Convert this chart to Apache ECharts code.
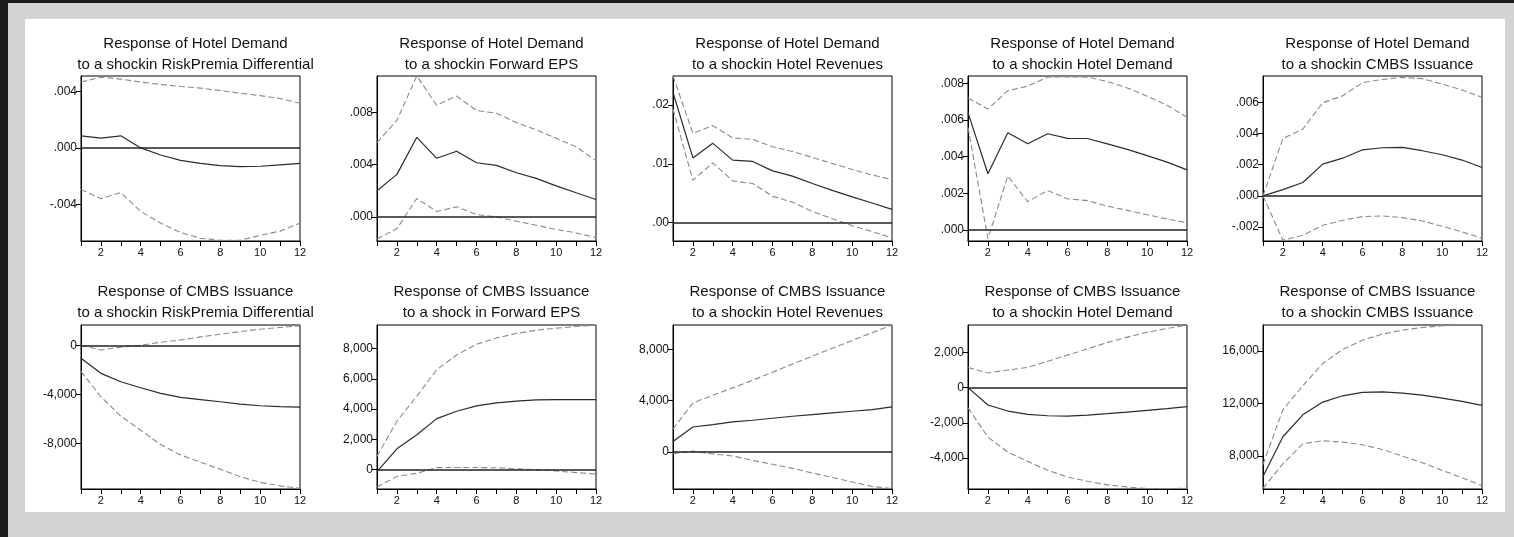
<!DOCTYPE html>
<html>
<head>
<meta charset="utf-8">
<script src="https://cdn.jsdelivr.net/npm/echarts@6/dist/echarts.min.js"></script>
<style>
html, body { margin: 0; padding: 0; background: #d4d4d4; }
#frame { position: relative; width: 1514px; height: 537px; background: #d4d4d4; overflow: hidden; }
#edgeTop { position: absolute; left: 0; top: 0; width: 1514px; height: 3px; background: #1c1c1c; }
#edgeLeft { position: absolute; left: 0; top: 0; width: 8px; height: 537px; background: #1c1c1c; }
#paper { position: absolute; left: 25px; top: 19px; width: 1480px; height: 493px; background: #fff; }
#main { position: absolute; left: 0; top: 0; width: 1514px; height: 537px; }
</style>
</head>
<body>
<div id="frame">
  <div id="edgeTop"></div>
  <div id="edgeLeft"></div>
  <div id="paper"></div>
  <div id="main"></div>
</div>
<script>
// periods after the shock
var periods = [1, 2, 3, 4, 5, 6, 7, 8, 9, 10, 11, 12];

// titles
var titleTop = 'Response of Hotel Demand';
var titleBottom = 'Response of CMBS Issuance';
var shockNames = [
    'to a shockin RiskPremia Differential',
    'to a shockin Forward EPS',
    'to a shockin Hotel Revenues',
    'to a shockin Hotel Demand',
    'to a shockin CMBS Issuance',
    'to a shockin RiskPremia Differential',
    'to a shock in Forward EPS',
    'to a shockin Hotel Revenues',
    'to a shockin Hotel Demand',
    'to a shockin CMBS Issuance'
];

// Response of Hotel Demand
var hdRisk   = [0.00086, 0.0007, 0.00086, 0.0, -0.0005, -0.00088, -0.0011, -0.00126, -0.00133, -0.0013, -0.0012, -0.0011];
var hdRiskHi = [0.00467, 0.00502, 0.00488, 0.00467, 0.0045, 0.00436, 0.00424, 0.00407, 0.00388, 0.00371, 0.0035, 0.00317];
var hdRiskLo = [-0.00295, -0.0036, -0.00317, -0.0045, -0.00533, -0.006, -0.0064, -0.00655, -0.00655, -0.0062, -0.0059, -0.00533];

var hdEps   = [0.002, 0.00326, 0.0061, 0.00449, 0.00503, 0.00415, 0.00395, 0.00338, 0.00295, 0.00238, 0.00185, 0.00133];
var hdEpsHi = [0.0057, 0.0074, 0.0108, 0.00856, 0.00926, 0.00815, 0.00795, 0.00723, 0.00667, 0.00603, 0.00538, 0.00431];
var hdEpsLo = [-0.0017, -0.0009, 0.00141, 0.00041, 0.00077, 0.00018, 0.0, -0.00033, -0.00064, -0.00097, -0.00123, -0.00159];

var hdRev   = [0.0221, 0.011, 0.01347, 0.01063, 0.0104, 0.0088, 0.0079, 0.00665, 0.0055, 0.00438, 0.00335, 0.00227];
var hdRevHi = [0.0249, 0.01517, 0.01648, 0.01438, 0.01415, 0.0129, 0.0121, 0.01108, 0.01006, 0.00903, 0.0081, 0.00733];
var hdRevLo = [0.0193, 0.0072, 0.01017, 0.0071, 0.00665, 0.0045, 0.0035, 0.0019, 0.00068, -0.0005, -0.0015, -0.00256];

var hdDem   = [0.0064, 0.00307, 0.0053, 0.0047, 0.00525, 0.005, 0.00499, 0.0047, 0.0044, 0.00406, 0.0037, 0.00328];
var hdDemHi = [0.0072, 0.0066, 0.0076, 0.00785, 0.00834, 0.00835, 0.00834, 0.0081, 0.00775, 0.0073, 0.0068, 0.00615];
var hdDemLo = [0.0056, -0.00047, 0.00294, 0.00154, 0.00216, 0.0017, 0.0016, 0.0013, 0.00107, 0.00083, 0.0006, 0.0004];

var hdCmbs   = [0, 0.0004, 0.00086, 0.00204, 0.00242, 0.00296, 0.00309, 0.00311, 0.0029, 0.00264, 0.0023, 0.00182];
var hdCmbsHi = [0, 0.00369, 0.00429, 0.00598, 0.00643, 0.00727, 0.00748, 0.00761, 0.00753, 0.00718, 0.0068, 0.00633];
var hdCmbsLo = [0, -0.00285, -0.00253, -0.00189, -0.00157, -0.00133, -0.00129, -0.0014, -0.00161, -0.00195, -0.00232, -0.00272];

// Response of CMBS Issuance
var cmRisk   = [-1061, -2286, -2966, -3456, -3918, -4245, -4420, -4599, -4790, -4925, -5000, -5034];
var cmRiskHi = [0, -381, -163, 0, 245, 435, 680, 900, 1115, 1306, 1442, 1578];
var cmRiskLo = [-2120, -4190, -5769, -6912, -8081, -8925, -9520, -10098, -10695, -11156, -11442, -11646];

var cmEps   = [-133, 1374, 2305, 3368, 3856, 4211, 4410, 4521, 4609, 4631, 4631, 4631];
var cmEpsHi = [880, 3200, 4855, 6604, 7576, 8288, 8700, 8997, 9219, 9352, 9461, 9551];
var cmEpsLo = [-1150, -450, -245, 130, 136, 134, 120, 45, -1, -90, -199, -289];

var cmRev   = [813, 1941, 2125, 2334, 2466, 2623, 2780, 2911, 3043, 3174, 3305, 3515];
var cmRevHi = [1784, 3830, 4420, 5000, 5600, 6230, 6860, 7480, 8100, 8710, 9320, 9915];
var cmRevLo = [-158, 52, -170, -330, -670, -980, -1300, -1660, -2010, -2360, -2710, -2885];

var cmDem   = [0, -988, -1330, -1520, -1596, -1615, -1558, -1482, -1387, -1292, -1197, -1083];
var cmDemHi = [1140, 836, 1000, 1150, 1500, 1850, 2200, 2560, 2870, 3150, 3360, 3552];
var cmDemLo = [-1140, -2812, -3660, -4190, -4690, -5080, -5316, -5524, -5644, -5734, -5740, -5718];

var cmCmbs   = [6456, 9468, 11139, 12101, 12582, 12835, 12886, 12785, 12633, 12405, 12152, 11848];
var cmCmbsHi = [7360, 11519, 13342, 15038, 16101, 16810, 17266, 17570, 17772, 17899, 17949, 17949];
var cmCmbsLo = [5550, 7417, 8936, 9164, 9063, 8860, 8506, 8000, 7494, 6911, 6355, 5747];

// y axis ranges and tick labels
var yMin = [-0.0066, -0.00185, -0.0031, -0.0006, -0.0029, -11700, -1285, -2911, -5760, 5500];
var yMax = [0.0051, 0.0108, 0.0249, 0.0084, 0.0077, 1650, 9560, 9920, 3560, 17960];
var yTicks = [
    [-0.004, 0, 0.004],
    [0, 0.004, 0.008],
    [0, 0.01, 0.02],
    [0, 0.002, 0.004, 0.006, 0.008],
    [-0.002, 0, 0.002, 0.004, 0.006],
    [-8000, -4000, 0],
    [0, 2000, 4000, 6000, 8000],
    [0, 4000, 8000],
    [-4000, -2000, 0, 2000],
    [8000, 12000, 16000]
];
var yLabels = [
    ['-.004', '.000', '.004'],
    ['.000', '.004', '.008'],
    ['.00', '.01', '.02'],
    ['.000', '.002', '.004', '.006', '.008'],
    ['-.002', '.000', '.002', '.004', '.006'],
    ['-8,000', '-4,000', '0'],
    ['0', '2,000', '4,000', '6,000', '8,000'],
    ['0', '4,000', '8,000'],
    ['-4,000', '-2,000', '0', '2,000'],
    ['8,000', '12,000', '16,000']
];
var xLabels = [2, 4, 6, 8, 10, 12];

var solids = [hdRisk, hdEps, hdRev, hdDem, hdCmbs, cmRisk, cmEps, cmRev, cmDem, cmCmbs];
var uppers = [hdRiskHi, hdEpsHi, hdRevHi, hdDemHi, hdCmbsHi, cmRiskHi, cmEpsHi, cmRevHi, cmDemHi, cmCmbsHi];
var lowers = [hdRiskLo, hdEpsLo, hdRevLo, hdDemLo, hdCmbsLo, cmRiskLo, cmEpsLo, cmRevLo, cmDemLo, cmCmbsLo];

var myChart = echarts.init(document.getElementById('main'));

var font = "'Liberation Sans', Arial, sans-serif";
var colLeft = [81, 377, 673, 968, 1263];
var rowTop = [76, 325];
var rowHeight = [165, 164];
var plotWidth = 219;

function pairs(ys) {
    return periods.map(function (p, k) { return [p, ys[k]]; });
}

var grids = [], xAxes = [], yAxes = [], titles = [], series = [];

for (var i = 0; i < 10; i++) {
    var row = i < 5 ? 0 : 1;
    var col = i % 5;
    grids.push({
        left: colLeft[col], top: rowTop[row], width: plotWidth, height: rowHeight[row],
        show: true, borderColor: '#000', borderWidth: 1, backgroundColor: 'transparent'
    });
    titles.push({
        text: (row === 0 ? titleTop : titleBottom) + '\n' + shockNames[i],
        left: colLeft[col] + plotWidth / 2,
        top: row === 0 ? 28 : 276,
        textAlign: 'center',
        textStyle: { fontFamily: font, fontSize: 15, fontWeight: 'normal', color: '#111', lineHeight: 21 }
    });
    xAxes.push({
        gridIndex: i, type: 'value', min: 1, max: 12, interval: 1,
        axisLine: { onZero: false, lineStyle: { color: '#000', width: 1 } },
        axisTick: { inside: false, length: 5, lineStyle: { color: '#000' } },
        axisLabel: {
            fontFamily: font, fontSize: 11, color: '#111', margin: 6,
            formatter: function (v) { return xLabels.indexOf(v) >= 0 ? String(v) : ''; }
        },
        splitLine: { show: false }
    });
    (function (ticks, labels) {
        yAxes.push({
            gridIndex: i, type: 'value', min: yMin[i], max: yMax[i],
            axisLine: { show: true, onZero: false, lineStyle: { color: '#000', width: 1 } },
            axisTick: { show: true, inside: false, length: 5, customValues: ticks, lineStyle: { color: '#000' } },
            axisLabel: {
                fontFamily: font, fontSize: 12, color: '#111', margin: 4,
                customValues: ticks,
                formatter: function (v) {
                    var k = ticks.indexOf(v);
                    return k >= 0 ? labels[k] : '';
                }
            },
            splitLine: { show: false }
        });
    })(yTicks[i], yLabels[i]);

    series.push({
        type: 'line', xAxisIndex: i, yAxisIndex: i, data: pairs(solids[i]),
        showSymbol: false, silent: true, z: 3,
        lineStyle: { color: '#2b2b2b', width: 1.2 },
        markLine: {
            silent: true, symbol: ['none', 'none'], label: { show: false },
            lineStyle: { color: '#222', width: 1.5, type: 'solid' },
            data: [{ yAxis: 0 }]
        }
    });
    series.push({
        type: 'line', xAxisIndex: i, yAxisIndex: i, data: pairs(uppers[i]),
        showSymbol: false, silent: true,
        lineStyle: { color: '#8a8a8a', width: 1.1, type: [6, 3] }
    });
    series.push({
        type: 'line', xAxisIndex: i, yAxisIndex: i, data: pairs(lowers[i]),
        showSymbol: false, silent: true,
        lineStyle: { color: '#8a8a8a', width: 1.1, type: [6, 3] }
    });
}

var option = {
    animation: false,
    backgroundColor: 'transparent',
    title: titles,
    grid: grids,
    xAxis: xAxes,
    yAxis: yAxes,
    series: series
};

myChart.setOption(option);
</script>
</body>
</html>
